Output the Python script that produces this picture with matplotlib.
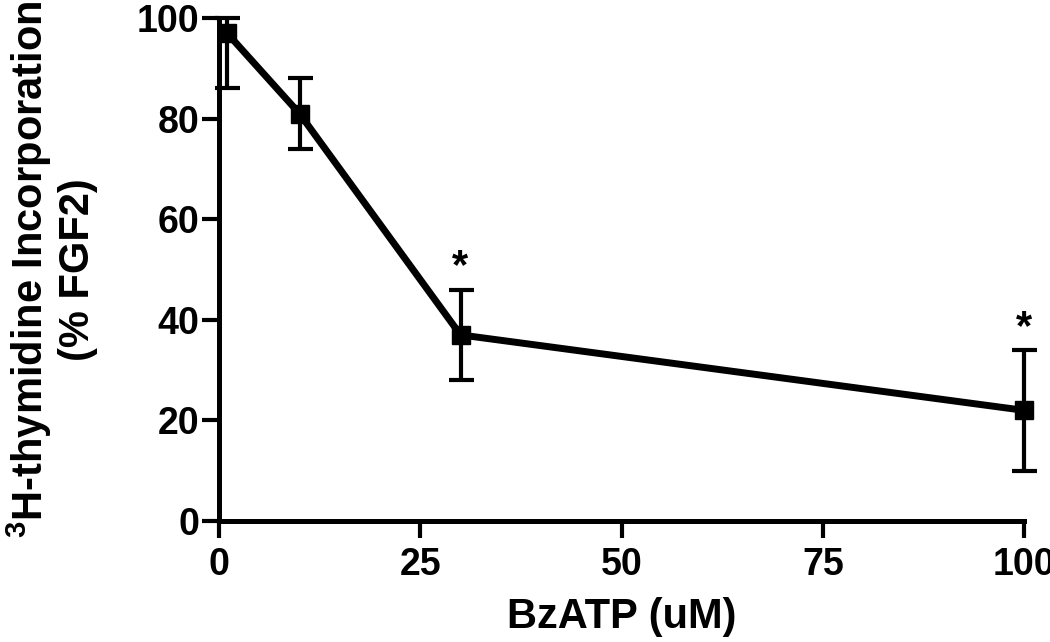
import matplotlib
matplotlib.use('Agg')
import matplotlib.pyplot as plt

plt.rcParams['font.family'] = ['Liberation Sans', 'DejaVu Sans']
plt.rcParams['font.weight'] = 'bold'
plt.rcParams['mathtext.fontset'] = 'custom'
plt.rcParams['mathtext.rm'] = 'Liberation Sans:bold'
plt.rcParams['mathtext.bf'] = 'Liberation Sans:bold'

# BzATP dose (uM) vs 3H-thymidine incorporation (% FGF2)
dose = [1, 10, 30, 100]
incorporation = [97, 81, 37, 22]
err_low = [11, 7, 9, 12]
err_high = [3, 7, 9, 12]
significant = [False, False, True, True]

x_ticks = [0, 25, 50, 75, 100]
y_ticks = [0, 20, 40, 60, 80, 100]

fig = plt.figure(figsize=(10.5, 6.42), dpi=100)
ax = fig.add_axes([219 / 1050, 1 - 521 / 642, 805 / 1050, 503 / 642])

ax.errorbar(dose, incorporation, yerr=[err_low, err_high], color='black',
            linewidth=5, marker='s', markersize=13.5, ecolor='black',
            elinewidth=3, capsize=9, capthick=3, clip_on=False, zorder=3)

for xv, yv, eh, sig in zip(dose, incorporation, err_high, significant):
    if sig:
        ax.text(xv, yv + eh + 2.2, '*', ha='center', va='baseline',
                fontsize=30, fontweight='bold')

ax.set_xlim(0, 100)
ax.set_ylim(0, 100)
ax.set_xticks(x_ticks)
ax.set_yticks(y_ticks)

for side in ['top', 'right']:
    ax.spines[side].set_visible(False)
for side in ['left', 'bottom']:
    ax.spines[side].set_linewidth(3.6)

ax.tick_params(axis='both', direction='out', length=12, width=3,
               labelsize=27)
ax.tick_params(axis='y', pad=2)
ax.tick_params(axis='x', pad=7)
for lab in ax.get_xticklabels() + ax.get_yticklabels():
    lab.set_fontweight('bold')

ax.set_xlabel('BzATP (uM)', fontsize=30, fontweight='bold')
ax.xaxis.set_label_coords(0.5, -0.151)
ax.set_ylabel(r'$^{\mathbf{3}}$H-thymidine Incorporation' + '\n(% FGF2)',
              fontsize=30, fontweight='bold', linespacing=1.15)
ax.yaxis.set_label_coords(-0.150, 0.5)

fig.savefig('out.png', dpi=100)
